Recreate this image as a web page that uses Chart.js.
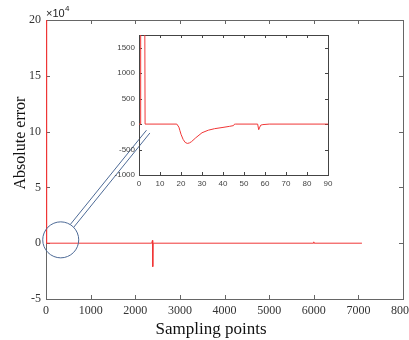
<!DOCTYPE html>
<html>
<head>
<meta charset="utf-8">
<script src="https://cdn.jsdelivr.net/npm/chart.js@4.4.0/dist/chart.umd.min.js"></script>
<style>
  html, body { margin: 0; padding: 0; background: #fff; }
  #wrap  { position: relative; width: 409px; height: 340px; }
  #main  { position: absolute; left: 0; top: 0; }
  #inset { position: absolute; left: 100px; top: 28px; }
</style>
</head>
<body>
<div id="wrap">
  <canvas id="main" width="409" height="340"></canvas>
  <canvas id="inset" width="235" height="175"></canvas>
</div>
<script>
// main plot, y in units of 1e4
const mainX  = [0, 8, 20, 2370, 2385, 2392, 2400, 5990, 6000, 6010, 7080];
const mainY  = [0, 25, 0, 0, 0.25, -2.1, 0, 0, 0.12, 0, 0];
const mainXTicks = [0, 1000, 2000, 3000, 4000, 5000, 6000, 7000, 8000];
const mainYTicks = [-5, 0, 5, 10, 15, 20];

// zoomed view of the first 90 samples (raw units)
const insetX = [0, 0.6, 0.8, 2.7, 2.9, 18, 19, 19.5, 20, 21, 22, 23, 24, 25, 27, 30, 33, 36, 40, 43, 45, 45.5, 46, 56.5, 57, 57.5, 58, 59, 62, 90];
const insetY = [0, 0, 3000, 3000, 0, 0, -60, -130, -200, -300, -360, -380, -370, -345, -270, -170, -120, -90, -65, -45, -30, 0, 0, 0, -110, -60, -20, -10, 0, 0];
const insetXTicks = [0, 10, 20, 30, 40, 50, 60, 70, 80, 90];
const insetYTicks = [-1000, -500, 0, 500, 1000, 1500];

const zoomCentre = { x: 330, y: 0.3 };   // where the circle sits (main data coords)
const zoomTarget = { x: 2290, y: 10.0 }; // where the connector meets the inset

const RED = '#f03636';

// inward MATLAB style ticks + box frame
const frameTicks = {
  id: 'frameTicks',
  beforeDatasetsDraw(chart, args, opts) {
    const { ctx, chartArea: a, scales: { x, y } } = chart;
    ctx.save();
    ctx.strokeStyle = opts.color;
    ctx.lineWidth = 1;
    ctx.beginPath();
    x.ticks.forEach(t => {
      const px = Math.round(x.getPixelForValue(t.value)) + 0.5;
      ctx.moveTo(px, a.bottom); ctx.lineTo(px, a.bottom - opts.len);
      ctx.moveTo(px, a.top);    ctx.lineTo(px, a.top + opts.len);
    });
    y.ticks.forEach(t => {
      const py = Math.round(y.getPixelForValue(t.value)) + 0.5;
      ctx.moveTo(a.left, py);  ctx.lineTo(a.left + opts.len, py);
      ctx.moveTo(a.right, py); ctx.lineTo(a.right - opts.len, py);
    });
    ctx.stroke();
    ctx.strokeRect(Math.round(a.left) + 0.5, Math.round(a.top) + 0.5,
                   Math.round(a.right - a.left), Math.round(a.bottom - a.top));
    ctx.restore();
  }
};

// axis titles, exponent label, zoom circle and connector
const decorations = {
  id: 'decorations',
  afterDraw(chart) {
    const { ctx, scales: { x, y } } = chart;
    ctx.save();
    ctx.fillStyle = '#111';
    ctx.textAlign = 'center';
    ctx.textBaseline = 'middle';
    ctx.font = '17px "Liberation Serif", "Times New Roman", serif';
    ctx.fillText('Sampling points', 211, 330);
    ctx.save();
    ctx.translate(21, 143);
    ctx.rotate(-Math.PI / 2);
    ctx.font = '16px "Liberation Serif", "Times New Roman", serif';
    ctx.fillText('Absolute error', 0, 0);
    ctx.restore();

    ctx.fillStyle = '#222';
    ctx.textAlign = 'left';
    ctx.textBaseline = 'alphabetic';
    ctx.font = '11px "Liberation Sans", Arial, sans-serif';
    ctx.fillText('\u00d710', 46, 17);
    ctx.font = '8px "Liberation Sans", Arial, sans-serif';
    ctx.fillText('4', 65, 11);

    // circle + tube towards the inset
    const cx = x.getPixelForValue(zoomCentre.x), cy = y.getPixelForValue(zoomCentre.y);
    const ex = x.getPixelForValue(zoomTarget.x), ey = y.getPixelForValue(zoomTarget.y);
    const r = 18, d = 2.2;
    const len = Math.hypot(ex - cx, ey - cy);
    const ux = (ex - cx) / len, uy = (ey - cy) / len;
    const nx = -uy, ny = ux;
    const along = Math.sqrt(r * r - d * d);
    ctx.strokeStyle = '#4d6a96';
    ctx.lineWidth = 1;
    ctx.beginPath();
    ctx.arc(cx, cy, r, 0, Math.PI * 2);
    [-1, 1].forEach(s => {
      ctx.moveTo(cx + ux * along + nx * d * s, cy + uy * along + ny * d * s);
      ctx.lineTo(ex + nx * d * s, ey + ny * d * s);
    });
    ctx.stroke();
    ctx.restore();
  }
};

function fixedScale(width, height) {
  return s => {
    if (width != null)  s.width = width;
    if (height != null) s.height = height;
    s.paddingLeft = 0; s.paddingRight = 0; s.paddingTop = 0; s.paddingBottom = 0;
  };
}

const plain = v => String(v);

new Chart(document.getElementById('main'), {
  type: 'line',
  data: {
    datasets: [{
      data: mainX.map((v, i) => ({ x: v, y: mainY[i] })),
      borderColor: RED,
      borderWidth: 1,
      pointRadius: 0,
      tension: 0,
    }],
  },
  options: {
    responsive: false,
    animation: false,
    events: [],
    layout: { padding: { left: 0, top: 20, right: 6, bottom: 0 } },
    plugins: { legend: { display: false }, tooltip: { enabled: false }, frameTicks: { color: '#666', len: 4 } },
    scales: {
      x: {
        type: 'linear', min: 0, max: 8000,
        afterBuildTicks: s => { s.ticks = mainXTicks.map(v => ({ value: v })); },
        afterFit: fixedScale(null, 41),
        grid: { display: false, drawTicks: false }, border: { display: false },
        ticks: { callback: plain, color: '#333', padding: 5, maxRotation: 0, font: { family: '"Liberation Serif", serif', size: 12 } },
      },
      y: {
        type: 'linear', min: -5, max: 20,
        afterBuildTicks: s => { s.ticks = mainYTicks.map(v => ({ value: v })); },
        afterFit: fixedScale(46, null),
        grid: { display: false, drawTicks: false }, border: { display: false },
        ticks: { callback: plain, color: '#333', padding: 5, font: { family: '"Liberation Serif", serif', size: 12 } },
      },
    },
  },
  plugins: [frameTicks, decorations],
});

new Chart(document.getElementById('inset'), {
  type: 'line',
  data: {
    datasets: [{
      data: insetX.map((v, i) => ({ x: v, y: insetY[i] })),
      borderColor: RED,
      borderWidth: 1,
      pointRadius: 0,
      tension: 0,
    }],
  },
  options: {
    responsive: false,
    animation: false,
    events: [],
    layout: { padding: { left: 0, top: 7, right: 7, bottom: 0 } },
    plugins: { legend: { display: false }, tooltip: { enabled: false }, frameTicks: { color: '#444', len: 3 } },
    scales: {
      x: {
        type: 'linear', min: 0, max: 90,
        afterBuildTicks: s => { s.ticks = insetXTicks.map(v => ({ value: v })); },
        afterFit: fixedScale(null, 28),
        grid: { display: false, drawTicks: false }, border: { display: false },
        ticks: { callback: plain, color: '#444', padding: 4, maxRotation: 0, font: { family: '"Liberation Sans", sans-serif', size: 8 } },
      },
      y: {
        type: 'linear', min: -1000, max: 1750,
        afterBuildTicks: s => { s.ticks = insetYTicks.map(v => ({ value: v })); },
        afterFit: fixedScale(39, null),
        grid: { display: false, drawTicks: false }, border: { display: false },
        ticks: { callback: plain, color: '#444', padding: 4, font: { family: '"Liberation Sans", sans-serif', size: 8 } },
      },
    },
  },
  plugins: [frameTicks],
});
</script>
</body>
</html>
